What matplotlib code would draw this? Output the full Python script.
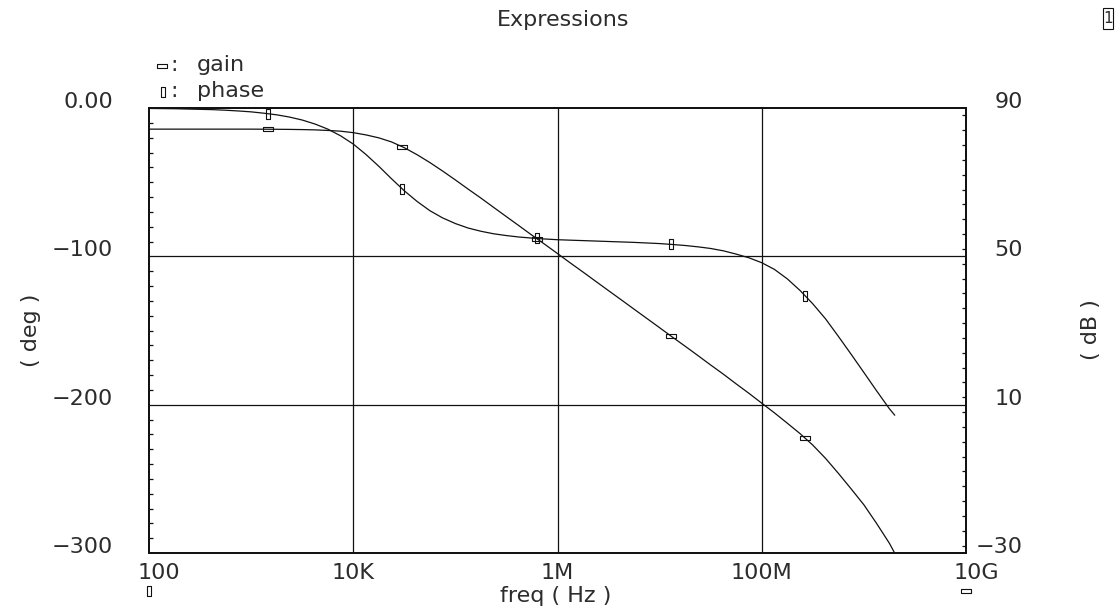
import numpy as np
import matplotlib
matplotlib.use("Agg")
import matplotlib.pyplot as plt
from matplotlib.path import Path
from matplotlib.lines import Line2D
from matplotlib.patches import Rectangle
from matplotlib.ticker import MultipleLocator, NullLocator, NullFormatter
from matplotlib.transforms import blended_transform_factory, offset_copy

# ---- data -------------------------------------------------------------
freq_hz = [100, 133, 178, 237, 316, 422, 562, 750,
           1e3, 1.33e3, 1.78e3, 2.37e3, 3.16e3, 4.22e3, 5.62e3, 7.5e3,
           1e4, 1.33e4, 1.78e4, 2.37e4, 3.16e4, 4.22e4, 5.62e4, 7.5e4,
           1e5, 1.33e5, 1.78e5, 2.37e5, 3.16e5, 4.22e5, 5.62e5, 7.5e5,
           1e6, 1.33e6, 1.78e6, 2.37e6, 3.16e6, 4.22e6, 5.62e6, 7.5e6,
           1e7, 1.33e7, 1.78e7, 2.37e7, 3.16e7, 4.22e7, 5.62e7, 7.5e7,
           1e8, 1.33e8, 1.78e8, 2.37e8, 3.16e8, 4.22e8, 5.62e8, 7.5e8,
           1e9, 1.33e9, 1.78e9, 2e9]

gain_db = [84.3, 84.3, 84.3, 84.3, 84.3, 84.3, 84.3, 84.3,
           84.3, 84.28, 84.26, 84.23, 84.18, 84.1, 83.95, 83.75,
           83.35, 82.75, 81.95, 80.85, 79.3, 77.4, 75.3, 73.0,
           70.6, 68.15, 65.7, 63.2, 60.7, 58.2, 55.7, 53.25,
           50.75, 48.25, 45.75, 43.25, 40.75, 38.25, 35.75, 33.25,
           30.75, 28.25, 25.75, 23.25, 20.7, 18.2, 15.6, 13.05,
           10.4, 7.8, 5.0, 2.2, -0.9, -4.5, -8.5, -12.7,
           -17.0, -22.0, -27.4, -30.0]

phase_deg = [-0.3, -0.4, -0.5, -0.7, -0.9, -1.1, -1.5, -2.0,
             -2.6, -3.5, -4.6, -6.1, -8.1, -10.8, -14.2, -18.7,
             -24.3, -31.3, -39.3, -47.7, -55.8, -63.0, -69.2, -74.1,
             -77.9, -80.9, -83.1, -84.8, -86.0, -87.0, -87.7, -88.3,
             -88.8, -89.1, -89.4, -89.7, -90.0, -90.3, -90.6, -91.0,
             -91.4, -92.0, -92.7, -93.6, -94.7, -96.3, -98.5, -101.0,
             -104.3, -108.8, -115.2, -123.0, -132.0, -142.2, -153.9, -166.0,
             -178.3, -190.6, -202.8, -207.0]

marker_freq_hz = [1.46e3, 3.0e4, 6.31e5, 1.29e7, 2.65e8]

x_ticks = [1e2, 1e4, 1e6, 1e8, 1e10]
x_tick_labels = ["100", "10K", "1M", "100M", "10G"]
deg_ticks = [0, -100, -200, -300]
deg_tick_labels = ["0.00", "\u2212100", "\u2212200", "\u2212300"]
db_ticks = [90, 50, 10, -30]
db_tick_labels = ["90", "50", "10", "\u221230"]

# ---- style ------------------------------------------------------------
plt.rcParams["font.family"] = ["DejaVu Sans"]
INK = "#111111"
TXT = "#2c2c2c"
FS = 16
W, H = 1115, 610


def fx(px):
    return px / W


def fy(py):
    return 1 - py / H


gain_mk = Path([(-1, -0.38), (1, -0.38), (1, 0.38), (-1, 0.38), (-1, -0.38)],
               [Path.MOVETO, Path.LINETO, Path.LINETO, Path.LINETO, Path.CLOSEPOLY])
phase_mk = Path([(-0.42, -1), (0.42, -1), (0.42, 1), (-0.42, 1), (-0.42, -1)],
                [Path.MOVETO, Path.LINETO, Path.LINETO, Path.LINETO, Path.CLOSEPOLY])

fig = plt.figure(figsize=(W / 100, H / 100), dpi=100)
fig.patch.set_facecolor("white")
ax = fig.add_axes([fx(149), fy(553), fx(966) - fx(149), fy(108) - fy(553)])
ax.set_xscale("log")
ax.set_xlim(1e2, 1e10)
ax.set_ylim(-300, 0)
ax2 = ax.twinx()
ax2.set_ylim(-30, 90)

for a in (ax, ax2):
    for s in a.spines.values():
        s.set_linewidth(1.3)
        s.set_color(INK)

# grid
for xv in x_ticks[1:-1]:
    ax.axvline(xv, color=INK, lw=0.9, zorder=1)
for yv in deg_ticks[1:-1]:
    ax.axhline(yv, color=INK, lw=0.9, zorder=1)

# curves
lf = np.log10(freq_hz)
lm = np.log10(marker_freq_hz)
ax.plot(freq_hz, phase_deg, color=INK, lw=0.9, zorder=3)
ax2.plot(freq_hz, gain_db, color=INK, lw=0.9, zorder=3)
ax.plot(marker_freq_hz, np.interp(lm, lf, phase_deg), ls="none",
        marker=phase_mk, ms=6.6, mfc="none", mec=INK, mew=0.8, zorder=4)
ax2.plot(marker_freq_hz, np.interp(lm, lf, gain_db), ls="none",
         marker=gain_mk, ms=7.2, mfc="none", mec=INK, mew=0.8, zorder=4)

# x axis: no ticks, labels placed under the frame
ax.xaxis.set_major_locator(NullLocator())
ax.xaxis.set_minor_locator(NullLocator())
ax.xaxis.set_major_formatter(NullFormatter())
ax.xaxis.set_minor_formatter(NullFormatter())
bt = blended_transform_factory(ax.transData, ax.transAxes)
for i, (xv, lab) in enumerate(zip(x_ticks, x_tick_labels)):
    shift = 10 if i in (0, len(x_ticks) - 1) else 0
    tr = offset_copy(bt, fig=fig, x=shift * 0.72, y=-10 * 0.72, units="points")
    ax.text(xv, 0, lab, transform=tr, ha="center", va="top", fontsize=FS, color=TXT)

# left (deg) axis
ax.set_yticks(deg_ticks)
ax.set_yticklabels(deg_tick_labels)
ax.yaxis.set_minor_locator(MultipleLocator(10))
ax.tick_params(axis="y", which="major", length=0, pad=36 * 0.72, labelsize=FS,
               labelcolor=TXT, left=True, right=False)
ax.tick_params(axis="y", which="minor", length=3, width=0.9, direction="in",
               color=INK, left=True, right=False)
for t in ax.get_yticklabels():
    t.set_va("baseline")

# right (dB) axis
ax2.set_yticks(db_ticks)
ax2.set_yticklabels(db_tick_labels)
ax2.yaxis.set_minor_locator(MultipleLocator(4))
ax2.tick_params(axis="y", which="major", length=0, pad=57 * 0.72, labelsize=FS,
                labelcolor=TXT)
ax2.tick_params(axis="y", which="minor", length=3, width=0.9, direction="in",
                color=INK)
for t in ax2.get_yticklabels():
    t.set_va("baseline")
    t.set_ha("right")

# titles and axis names
fig.text(fx(563), fy(20), "Expressions", ha="center", va="center", fontsize=FS, color=TXT)
fig.text(fx(556), fy(596), "freq ( Hz )", ha="center", va="center", fontsize=FS, color=TXT)
fig.text(fx(31), fy(330), "( deg )", ha="center", va="center", rotation=90,
         fontsize=FS, color=TXT)
fig.text(fx(1091), fy(330), "( dB )", ha="center", va="center", rotation=90,
         fontsize=FS, color=TXT)

# legend
fig.add_artist(Line2D([fx(162)], [fy(66)], transform=fig.transFigure, ls="none",
                      marker=gain_mk, ms=7.2, mfc="none", mec=INK, mew=0.8))
fig.add_artist(Line2D([fx(162.5)], [fy(92)], transform=fig.transFigure, ls="none",
                      marker=phase_mk, ms=6.6, mfc="none", mec=INK, mew=0.8))
for yb, name in ((71, "gain"), (97, "phase")):
    fig.text(fx(170), fy(yb), ":", ha="left", va="baseline", fontsize=FS, color=TXT)
    fig.text(fx(197), fy(yb), name, ha="left", va="baseline", fontsize=FS, color=TXT)

# axis symbols under the x axis
fig.add_artist(Line2D([fx(149)], [fy(591)], transform=fig.transFigure, ls="none",
                      marker=phase_mk, ms=6.6, mfc="none", mec=INK, mew=0.8))
fig.add_artist(Line2D([fx(966)], [fy(591)], transform=fig.transFigure, ls="none",
                      marker=gain_mk, ms=7.2, mfc="none", mec=INK, mew=0.8))

# window number box
fig.add_artist(Rectangle((fx(1103), fy(29)), fx(10), 21 / H, transform=fig.transFigure,
                         fill=False, lw=0.8, ec=INK))
fig.text(fx(1108), fy(18.5), "1", ha="center", va="center", fontsize=11, color=TXT)

fig.savefig("out.png", dpi=100, facecolor="white")
